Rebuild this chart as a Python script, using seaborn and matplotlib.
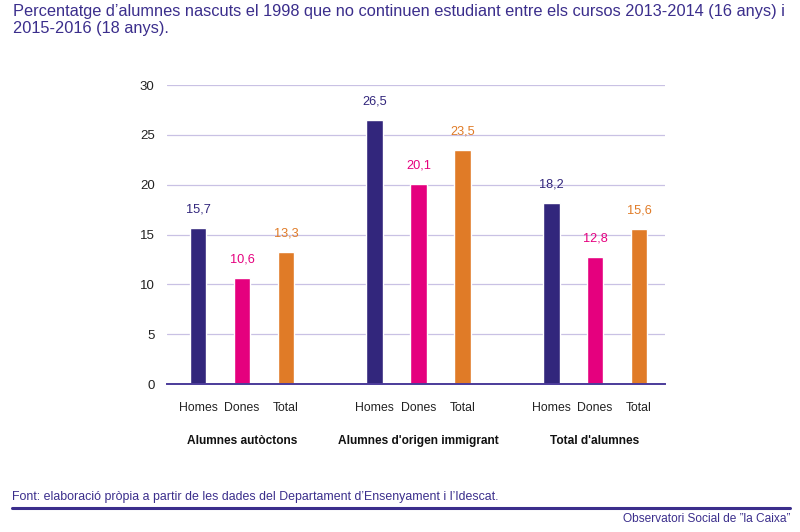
import pandas as pd
import matplotlib.pyplot as plt
import matplotlib.transforms as mtransforms
import seaborn as sns

groups = ["Alumnes autòctons", "Alumnes d'origen immigrant", "Total d'alumnes"]
sexes = ["Homes", "Dones", "Total"]
homes = [15.7, 26.5, 18.2]
dones = [10.6, 20.1, 12.8]
total = [13.3, 23.5, 15.6]
yticks = [0, 5, 10, 15, 20, 25, 30]

title = ("Percentatge d\u2019alumnes nascuts el 1998 que no continuen estudiant entre els cursos 2013-2014 (16 anys) i\n"
         "2015-2016 (18 anys).")
source = "Font: elaboració pròpia a partir de les dades del Departament d\u2019Ensenyament i l\u2019Idescat."
brand = "Observatori Social de \u201dla Caixa\u201d"

colors = {"Homes": "#32267c", "Dones": "#e5007e", "Total": "#e07b27"}
purple = "#3b2e8c"

rows = []
for g, h, d, t in zip(groups, homes, dones, total):
    rows.append({"grup": g, "sexe": "Homes", "valor": h})
    rows.append({"grup": g, "sexe": "Dones", "valor": d})
    rows.append({"grup": g, "sexe": "Total", "valor": t})
df = pd.DataFrame(rows)

sns.set_style("white")
plt.rcParams["font.family"] = ["Liberation Sans", "DejaVu Sans"]

fig = plt.figure(figsize=(8, 5.32), dpi=100)
ax = fig.add_axes([0.209, 0.278, 0.622, 0.562])

sns.barplot(data=df, x="grup", y="valor", hue="sexe", order=groups, hue_order=sexes,
            palette=colors, width=0.746, gap=0.62, legend=False, ax=ax, saturation=1)

ax.set_ylim(0, 30)
ax.set_xlim(-0.424, 2.395)
ax.set_yticks(yticks)
ax.set_yticklabels([str(v) for v in yticks], fontsize=9.5, color="#222222")
ax.yaxis.grid(True, color="#c9c1e4", linewidth=0.9)
ax.set_axisbelow(True)
for s in ["top", "right", "left"]:
    ax.spines[s].set_visible(False)
ax.spines["bottom"].set_color("#4b3b9a")
ax.spines["bottom"].set_linewidth(1.4)
ax.tick_params(axis="y", length=0, pad=9)

# value labels and sex labels under each bar
centers, names = [], []
for cont, sexe in zip(ax.containers, sexes):
    labels = [f"{v:.1f}".replace(".", ",") for v in cont.datavalues]
    ax.bar_label(cont, labels=labels, padding=9, color=colors[sexe], fontsize=9.2)
    for bar in cont:
        centers.append(bar.get_x() + bar.get_width() / 2)
        names.append(sexe)
ax.set_xticks(centers)
ax.set_xticklabels(names, fontsize=8.8, color="#222222")
ax.tick_params(axis="x", length=0, pad=13)
ax.set_xlabel("")
ax.set_ylabel("")

trans = mtransforms.blended_transform_factory(ax.transData, ax.transAxes)
for i, g in enumerate(groups):
    ax.text(i, -0.19, g, transform=trans, ha="center", va="center",
            fontsize=8.6, fontweight="bold", color="#111111")

fig.text(13 / 800, 1 - 4 / 532, title, ha="left", va="top", fontsize=11.8,
         color=purple, linespacing=1.2)
fig.text(12 / 800, 1 - 497 / 532, source, ha="left", va="center", fontsize=8.9, color=purple)
fig.add_artist(plt.Line2D([12 / 800, 790 / 800], [1 - 508 / 532, 1 - 508 / 532],
                          color=purple, linewidth=2.2, transform=fig.transFigure))
fig.text(790 / 800, 1 - 519 / 532, brand, ha="right", va="center", fontsize=8.6, color=purple)

fig.savefig("out.png", dpi=100)
